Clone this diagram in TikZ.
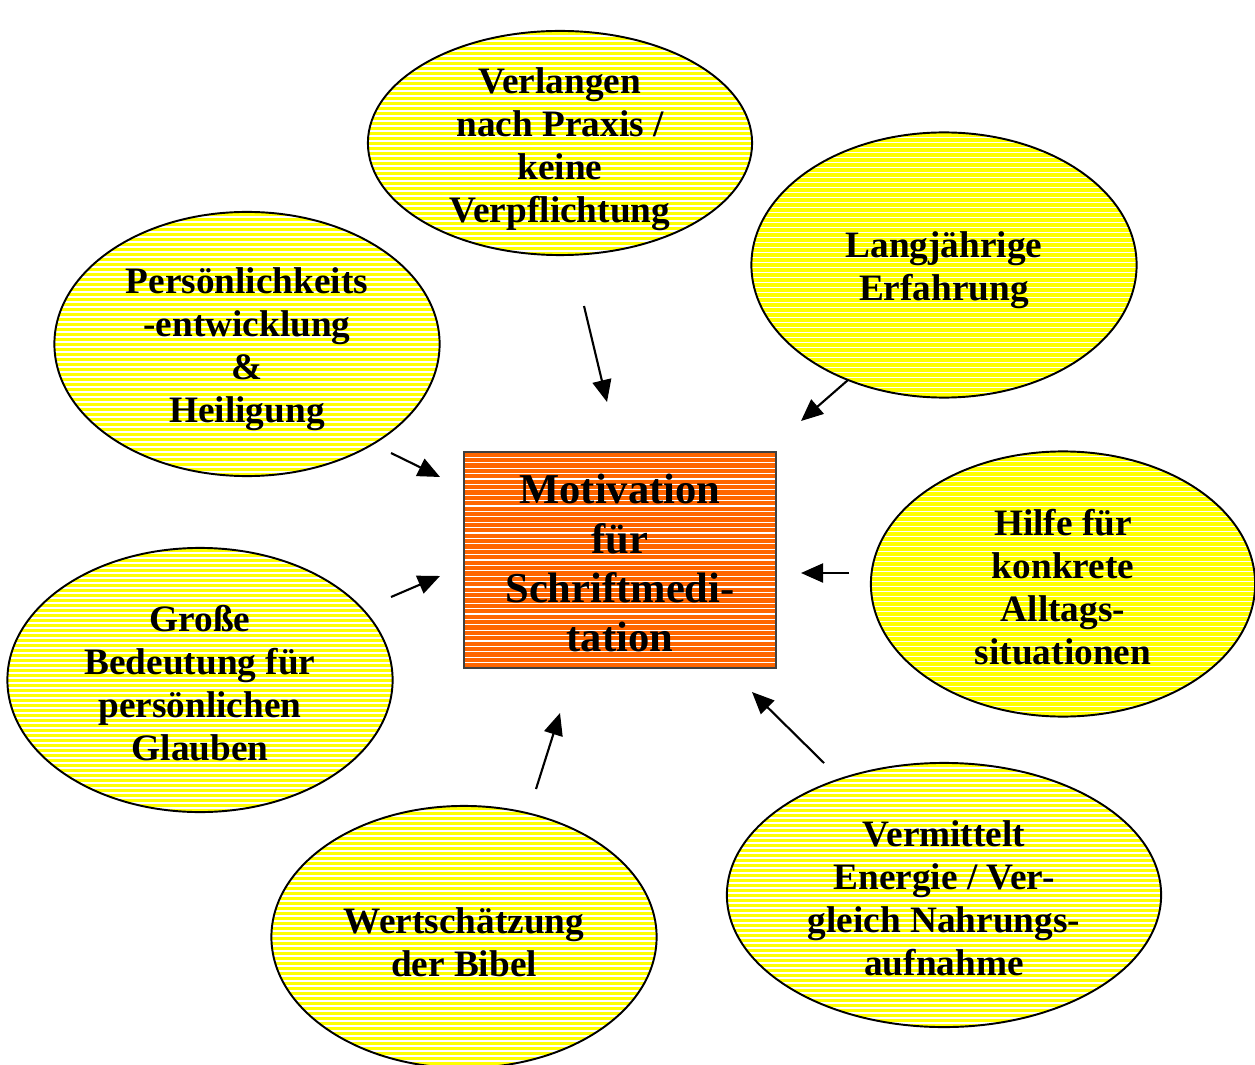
\documentclass[tikz,border=0pt]{standalone}
\usepackage{fontspec}
\setmainfont{Liberation Serif}
\usetikzlibrary{shapes.geometric,arrows.meta}
\definecolor{bubble}{HTML}{FFFF00}
\definecolor{boxfill}{HTML}{FF6600}
\tikzset{
  stripes/.style n args={3}{path picture={
    \fill[#1] (path picture bounding box.south west) rectangle (path picture bounding box.north east);
    \foreach \k in {1,...,60}{
      \draw[white,line width=#3]
        ([yshift=-\k*#2]path picture bounding box.north west) --
        ([yshift=-\k*#2]path picture bounding box.north east);
    }}},
  bubblenode/.style={ellipse, draw=black, line width=0.55pt,
    stripes={bubble}{0.05cm}{0.45pt}, inner sep=0pt},
  bubbletext/.style={inner sep=0pt, align=center,
    font=\fontsize{10.6}{12.25}\selectfont\bfseries},
  centrebox/.style={rectangle, draw=black!75, line width=0.5pt,
    stripes={boxfill}{0.054cm}{0.35pt},
    inner sep=0pt, minimum width=3.12cm, minimum height=2.16cm},
  centretext/.style={inner sep=0pt, align=center,
    font=\fontsize{12.1}{13.95}\selectfont\bfseries},
  arr/.style={line width=0.6pt, -{Triangle[length=0.22cm,width=0.19cm]}}
}
\begin{document}
\begin{tikzpicture}[x=0.01cm,y=-0.01cm]
\useasboundingbox (0,0) rectangle (1255,1064);

% central box
\node[centrebox] (mot) at (620,560) {};
\node[centretext] (mot-t) at ([yshift=-0.03cm]mot.center) {Motivation\\für\\Schriftmedi-\\tation};

% surrounding bubbles
\node[bubblenode, minimum width=3.84cm, minimum height=2.24cm] (praxis) at (560,143) {};
\node[bubbletext] (praxis-t) at ([yshift=-0.06cm]praxis.center)
  {Verlangen\\nach Praxis /\\keine\\Verpflichtung};
\node[bubblenode, minimum width=3.85cm, minimum height=2.65cm] (erfahr) at (944,265) {};
\node[bubbletext] (erfahr-t) at ([yshift=-0.05cm]erfahr.center)
  {Langjährige\\Erfahrung};
\node[bubblenode, minimum width=3.85cm, minimum height=2.64cm] (person) at (247,344) {};
\node[bubbletext] (person-t) at ([yshift=-0.05cm]person.center)
  {Persönlichkeits\\-entwicklung\\\&\\Heiligung};
\node[bubblenode, minimum width=3.84cm, minimum height=2.65cm] (hilfe) at (1063,584) {};
\node[bubbletext] (hilfe-t) at ([yshift=-0.03cm]hilfe.center)
  {Hilfe für\\konkrete\\Alltags-\\situationen};
\node[bubblenode, minimum width=3.85cm, minimum height=2.64cm] (glaube) at (200,680) {};
\node[bubbletext] (glaube-t) at ([yshift=-0.03cm]glaube.center)
  {Große\\Bedeutung für\\persönlichen\\Glauben};
\node[bubblenode, minimum width=3.85cm, minimum height=2.62cm] (bibel) at (464,937) {};
\node[bubbletext] (bibel-t) at ([yshift=-0.05cm]bibel.center)
  {Wertschätzung\\der Bibel};
\node[bubblenode, minimum width=4.34cm, minimum height=2.64cm] (energie) at (944,895) {};
\node[bubbletext] (energie-t) at ([yshift=-0.03cm]energie.center)
  {Vermittelt\\Energie / Ver-\\gleich Nahrungs-\\aufnahme};

% arrow end points
\coordinate (p1) at (584,306);  \coordinate (q1) at (607,402);
\coordinate (p2) at (848,380);  \coordinate (q2) at (801,421);
\coordinate (p3) at (391,453);  \coordinate (q3) at (440,477);
\coordinate (p4) at (391,597);  \coordinate (q4) at (440,576);
\coordinate (p5) at (849,573);  \coordinate (q5) at (801,573);
\coordinate (p6) at (536,789);  \coordinate (q6) at (560,713);
\coordinate (p7) at (824,763);  \coordinate (q7) at (752,692);

\foreach \i in {1,...,7}{\draw[arr] (p\i) -- (q\i);}
\end{tikzpicture}
\end{document}
